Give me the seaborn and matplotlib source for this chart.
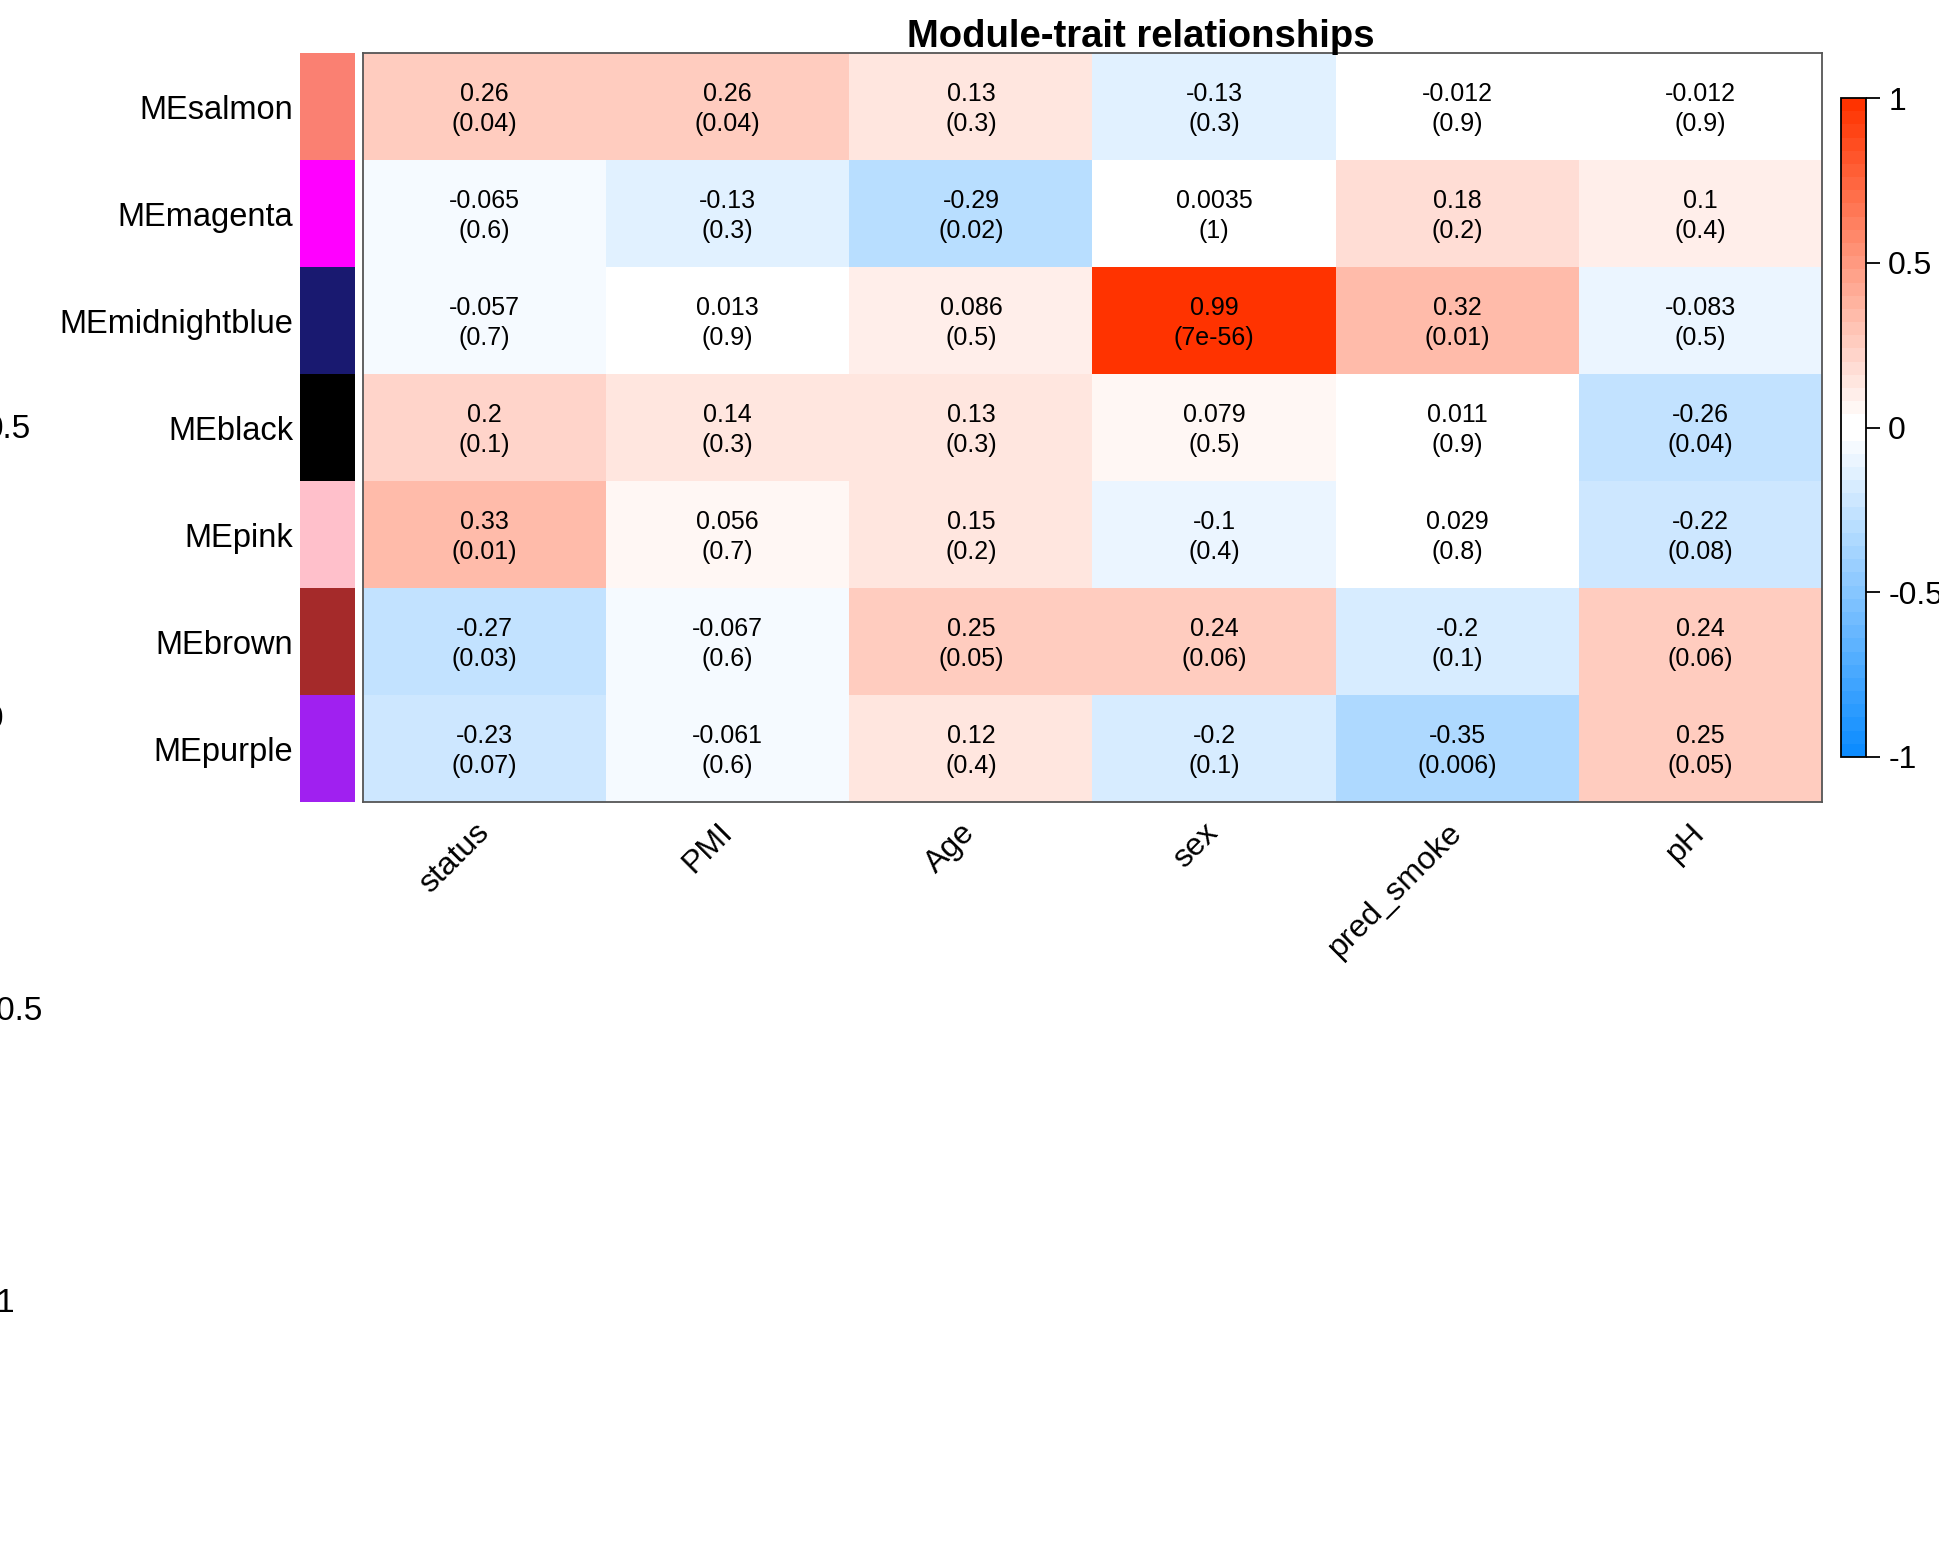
import numpy as np
import pandas as pd
import matplotlib
matplotlib.use("Agg")
import matplotlib.pyplot as plt
import matplotlib.transforms as mtransforms
from matplotlib.colors import ListedColormap
import seaborn as sns

# ---------------- data ----------------
modules = ["MEsalmon", "MEmagenta", "MEmidnightblue", "MEblack", "MEpink", "MEbrown", "MEpurple"]
module_colors = ["#FA8072", "#FF00FF", "#191970", "#000000", "#FFC0CB", "#A52A2A", "#A020F0"]
traits = ["status", "PMI", "Age", "sex", "pred_smoke", "pH"]

cor_salmon = [0.26, 0.26, 0.13, -0.13, -0.012, -0.012]
cor_magenta = [-0.065, -0.13, -0.29, 0.0035, 0.18, 0.1]
cor_midnightblue = [-0.057, 0.013, 0.086, 0.99, 0.32, -0.083]
cor_black = [0.2, 0.14, 0.13, 0.079, 0.011, -0.26]
cor_pink = [0.33, 0.056, 0.15, -0.1, 0.029, -0.22]
cor_brown = [-0.27, -0.067, 0.25, 0.24, -0.2, 0.24]
cor_purple = [-0.23, -0.061, 0.12, -0.2, -0.35, 0.25]

p_salmon = ["0.04", "0.04", "0.3", "0.3", "0.9", "0.9"]
p_magenta = ["0.6", "0.3", "0.02", "1", "0.2", "0.4"]
p_midnightblue = ["0.7", "0.9", "0.5", "7e-56", "0.01", "0.5"]
p_black = ["0.1", "0.3", "0.3", "0.5", "0.9", "0.04"]
p_pink = ["0.01", "0.7", "0.2", "0.4", "0.8", "0.08"]
p_brown = ["0.03", "0.6", "0.05", "0.06", "0.1", "0.06"]
p_purple = ["0.07", "0.6", "0.4", "0.1", "0.006", "0.05"]

cbar_ticks = [-1, -0.5, 0, 0.5, 1]
cbar_ticklabels = ["-1", "-0.5", "0", "0.5", "1"]
stray_labels = ["0.5", "0", "-0.5", "-1"]
title = "Module-trait relationships"

cor_rows = [cor_salmon, cor_magenta, cor_midnightblue, cor_black, cor_pink, cor_brown, cor_purple]
p_rows = [p_salmon, p_magenta, p_midnightblue, p_black, p_pink, p_brown, p_purple]

cor_df = pd.DataFrame(cor_rows, index=modules, columns=traits)
annot = np.array([[f"{c:g}\n({p})" for c, p in zip(cr, pr)] for cr, pr in zip(cor_rows, p_rows)])

# ---------------- colormap (WGCNA blueWhiteRed(50)) ----------------
def blue_white_red(n=50):
    half = n // 2
    frac = np.arange(half) / (half - 1)
    blue_end = np.array([0.05, 0.55, 1.0])
    red_end = np.array([1.0, 0.2, 0.0])
    blues = [blue_end + (1 - blue_end) * f for f in frac]
    reds = [red_end + (1 - red_end) * f for f in frac[::-1]]
    return ListedColormap(blues + reds)

cmap = blue_white_red(50)

# ---------------- figure ----------------
W, H = 1940, 1544
fig = plt.figure(figsize=(W / 100, H / 100), dpi=100)
plt.rcParams["font.family"] = ["Liberation Sans", "DejaVu Sans"]

def fx(px):
    return px / W

def fy(py):
    return 1 - py / H

hm_l, hm_r, hm_t, hm_b = 363, 1822, 53, 802
ax = fig.add_axes([fx(hm_l), fy(hm_b), fx(hm_r - hm_l), (hm_b - hm_t) / H])
ax_strip = fig.add_axes([fx(300), fy(hm_b), fx(55), (hm_b - hm_t) / H])
cax = fig.add_axes([fx(1841), fy(757), fx(25), (757 - 98) / H])

sns.heatmap(cor_df, ax=ax, cmap=cmap, vmin=-1, vmax=1, annot=annot, fmt="",
            annot_kws={"fontsize": 18, "color": "black", "linespacing": 1.35,
                        "family": ["Liberation Sans", "DejaVu Sans"]},
            cbar_ax=cax, cbar_kws={"ticks": cbar_ticks},
            linewidths=0, xticklabels=traits, yticklabels=False)

# nudge annotations slightly downward, as in the reference
for t in ax.texts:
    x, y = t.get_position()
    t.set_position((x, y + 0.025))

for s in ax.spines.values():
    s.set_visible(True)
    s.set_color("#555555")
    s.set_linewidth(1.3)

ax.set_xlabel("")
ax.set_ylabel("")
ax.set_xticklabels(traits, rotation=45, ha="right", va="center",
                   rotation_mode="anchor", fontsize=23)
ax.tick_params(axis="x", length=0, pad=19)
ax.tick_params(axis="y", length=0)

# module colour strip
strip_df = pd.DataFrame({"m": np.arange(len(modules))}, index=modules)
sns.heatmap(strip_df, ax=ax_strip, cmap=ListedColormap(module_colors), cbar=False,
            vmin=-0.5, vmax=len(modules) - 0.5, xticklabels=False, yticklabels=modules)
ax_strip.set_ylabel("")
ax_strip.set_yticklabels(modules, rotation=0, fontsize=23.5)
ax_strip.tick_params(axis="y", length=0, pad=5)
shift = mtransforms.ScaledTranslation(0, -0.04, fig.dpi_scale_trans)
for lab in ax_strip.get_yticklabels():
    lab.set_transform(lab.get_transform() + shift)

# colourbar styling
cb = ax.collections[0].colorbar
cb.set_ticks(cbar_ticks)
cb.set_ticklabels(cbar_ticklabels)
cb.outline.set_edgecolor("black")
cb.outline.set_linewidth(1.3)
cax.tick_params(axis="y", length=10, width=1.3, labelsize=23, pad=6)

# title
fig.text(fx(1141), fy(47), title, ha="center", va="baseline",
         fontsize=27.5, fontweight="bold")

# stray, partly cut-off colourbar labels at the left edge (as in the reference)
for lab, ypx in zip(stray_labels, [430, 719, 1012, 1303]):
    fig.text(fx(-15), fy(ypx), lab, ha="left", va="center", fontsize=24)

fig.savefig("out.png", dpi=100, facecolor="white")
